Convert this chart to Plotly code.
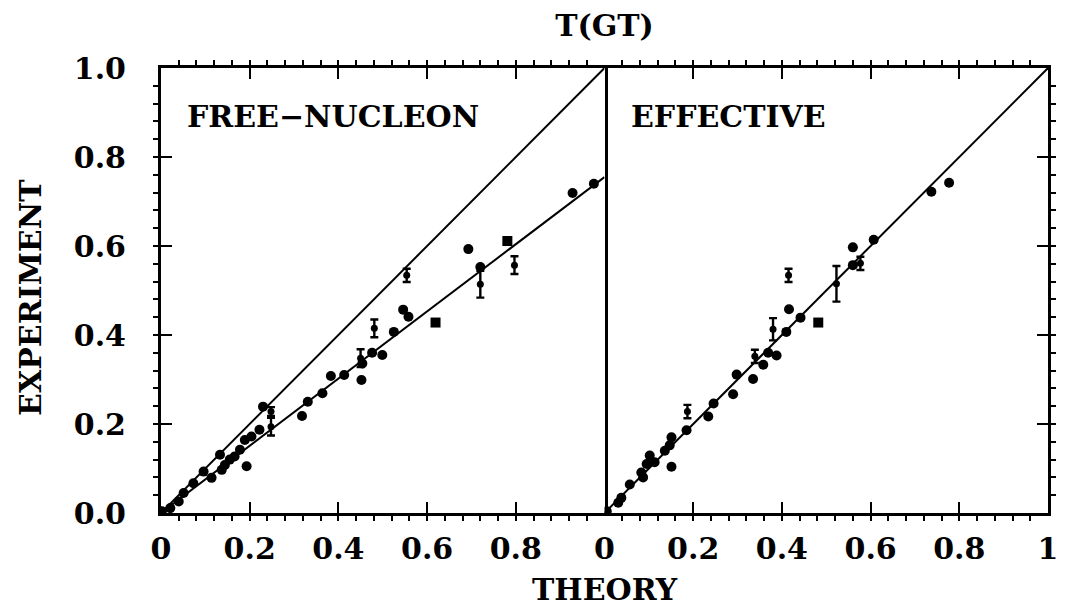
import plotly.graph_objects as go

# Gamow-Teller transition strengths T(GT): experiment vs. shell-model theory

# FREE-NUCLEON panel: plain points
free_x = [0.928, 0.976, 0.693, 0.720, 0.546, 0.558, 0.525, 0.454, 0.476,
          0.499, 0.452, 0.383, 0.413, 0.364, 0.331, 0.318, 0.230, 0.222,
          0.204, 0.189, 0.193, 0.178, 0.166, 0.155, 0.133, 0.144, 0.137,
          0.114, 0.096, 0.073, 0.051, 0.040, 0.021, 0.002]
free_y = [0.719, 0.740, 0.593, 0.553, 0.457, 0.441, 0.407, 0.336, 0.360,
          0.355, 0.299, 0.308, 0.310, 0.269, 0.250, 0.218, 0.239, 0.187,
          0.172, 0.164, 0.105, 0.142, 0.127, 0.120, 0.131, 0.108, 0.097,
          0.079, 0.093, 0.067, 0.045, 0.026, 0.011, 0.004]
# FREE-NUCLEON panel: square markers
free_sq_x = [0.781, 0.619]
free_sq_y = [0.611, 0.428]
# FREE-NUCLEON panel: points with error bars
free_err_x = [0.797, 0.720, 0.554, 0.481, 0.450, 0.248, 0.248]
free_err_y = [0.557, 0.514, 0.534, 0.415, 0.348, 0.194, 0.228]
free_err_e = [0.020, 0.030, 0.015, 0.020, 0.020, 0.020, 0.010]

# EFFECTIVE panel: plain points
eff_x = [0.737, 0.777, 0.607, 0.560, 0.560, 0.416, 0.442, 0.410, 0.388,
         0.369, 0.358, 0.335, 0.298, 0.290, 0.246, 0.234, 0.185, 0.151,
         0.147, 0.151, 0.136, 0.102, 0.113, 0.095, 0.083, 0.087, 0.057,
         0.038, 0.031, 0.005]
eff_y = [0.722, 0.742, 0.614, 0.597, 0.557, 0.458, 0.439, 0.407, 0.354,
         0.360, 0.333, 0.301, 0.311, 0.267, 0.246, 0.217, 0.186, 0.170,
         0.152, 0.104, 0.140, 0.129, 0.114, 0.110, 0.091, 0.080, 0.064,
         0.034, 0.023, 0.004]
eff_sq_x = [0.482]
eff_sq_y = [0.428]
eff_err_x = [0.577, 0.523, 0.415, 0.380, 0.339, 0.187]
eff_err_y = [0.561, 0.515, 0.534, 0.413, 0.352, 0.228]
eff_err_e = [0.015, 0.040, 0.015, 0.025, 0.015, 0.015]

# reference lines: equality and the quenched free-nucleon fit
line_x = [0.0, 1.0]
unity_y = [0.0, 1.0]
fit_y = [0.0, 0.755]

x_ticks_left = [0, 0.2, 0.4, 0.6, 0.8]
x_ticks_right = [0, 0.2, 0.4, 0.6, 0.8, 1.0]
x_text_left = ["0", "0.2", "0.4", "0.6", "0.8"]
x_text_right = ["0", "0.2", "0.4", "0.6", "0.8", "1"]
y_ticks = [0.0, 0.2, 0.4, 0.6, 0.8, 1.0]
y_text = ["0.0", "0.2", "0.4", "0.6", "0.8", "1.0"]

FONT = dict(family="DejaVu Serif", size=30, color="black", weight="bold")
INK = "black"
MSIZE = 10

fig = go.Figure()


def add_panel(xa, ya, px, py, sqx, sqy, ex, ey, ee, lines):
    for ly in lines:
        fig.add_trace(go.Scatter(x=line_x, y=ly, mode="lines",
                                 line=dict(color=INK, width=2),
                                 xaxis=xa, yaxis=ya, hoverinfo="skip"))
    fig.add_trace(go.Scatter(x=px, y=py, mode="markers",
                             marker=dict(color=INK, size=MSIZE, symbol="circle"),
                             xaxis=xa, yaxis=ya))
    fig.add_trace(go.Scatter(x=sqx, y=sqy, mode="markers",
                             marker=dict(color=INK, size=MSIZE, symbol="square"),
                             xaxis=xa, yaxis=ya))
    fig.add_trace(go.Scatter(x=ex, y=ey, mode="markers",
                             marker=dict(color=INK, size=7, symbol="circle"),
                             error_y=dict(type="data", array=ee, visible=True,
                                          color=INK, thickness=2.4, width=4),
                             xaxis=xa, yaxis=ya))


add_panel("x", "y", free_x, free_y, free_sq_x, free_sq_y,
          free_err_x, free_err_y, free_err_e, [unity_y, fit_y])
add_panel("x2", "y2", eff_x, eff_y, eff_sq_x, eff_sq_y,
          eff_err_x, eff_err_y, eff_err_e, [unity_y])

minor = dict(ticklen=5, dtick=0.04, tickcolor=INK, tickwidth=2, showgrid=False)
common_x = dict(range=[0, 1], showgrid=False, zeroline=False, showline=True,
                linecolor=INK, linewidth=3, ticks="inside", ticklen=11,
                tickwidth=2, tickcolor=INK, mirror="ticks", minor=minor,
                tickfont=FONT, ticklabelstandoff=7, fixedrange=True)

fig.update_layout(
    width=1069, height=608,
    margin=dict(l=161, r=11, t=68, b=95),
    paper_bgcolor="white", plot_bgcolor="white",
    showlegend=False,
    xaxis=dict(domain=[0, 0.5], tickvals=x_ticks_left, ticktext=x_text_left,
               anchor="y", **common_x),
    xaxis2=dict(domain=[0.5, 1], tickvals=x_ticks_right, ticktext=x_text_right,
                anchor="y2", **common_x),
    # left panel: ticks on the outer left edge, plain line on the shared edge
    yaxis=dict(range=[0, 1], anchor="x", showgrid=False, zeroline=False,
               showline=True, linecolor=INK, linewidth=3, mirror=True,
               ticks="inside", ticklen=11, tickwidth=2, tickcolor=INK,
               minor=minor, tickvals=y_ticks, ticktext=y_text,
               tickfont=FONT, ticklabelstandoff=26, fixedrange=True),
    # right panel: ticks on the outer right edge only
    yaxis2=dict(range=[0, 1], anchor="x2", side="right", showgrid=False,
                zeroline=False, showline=True, linecolor=INK, linewidth=3,
                mirror=False, ticks="inside", ticklen=11, tickwidth=2,
                tickcolor=INK, minor=minor, tickvals=y_ticks,
                showticklabels=False, fixedrange=True),
    title=dict(text="T(GT)", x=0.5, xref="paper", y=0.958, yref="container",
               xanchor="center", yanchor="middle", font=FONT),
)

fig.add_annotation(text="THEORY", xref="paper", yref="paper", x=0.5, y=-0.172,
                   xanchor="center", yanchor="middle", showarrow=False,
                   font=FONT)
fig.add_annotation(text="EXPERIMENT", xref="paper", yref="paper", x=-0.148,
                   y=0.485, xanchor="center", yanchor="middle",
                   textangle=-90, showarrow=False, font=FONT)
fig.add_annotation(text="FREE\u2212NUCLEON", xref="x", yref="y", x=0.054,
                   y=0.89, xanchor="left", yanchor="middle", showarrow=False,
                   font=FONT)
fig.add_annotation(text="EFFECTIVE", xref="x2", yref="y2", x=0.056, y=0.89,
                   xanchor="left", yanchor="middle", showarrow=False,
                   font=FONT)

fig.write_html("out.html")
